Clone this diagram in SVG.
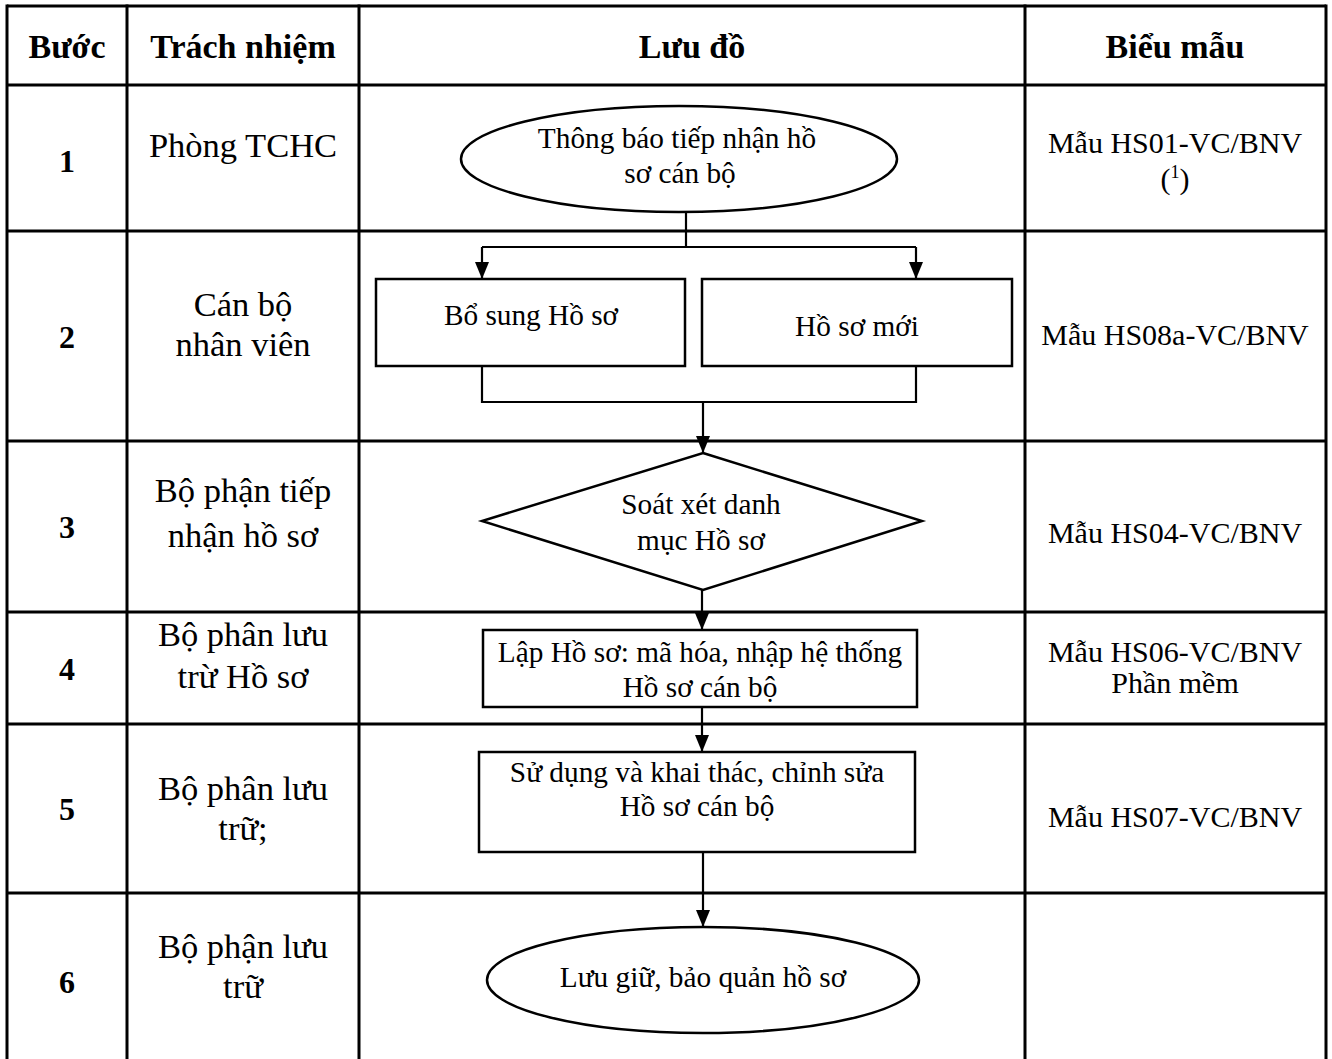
<svg xmlns="http://www.w3.org/2000/svg" width="1332" height="1059" viewBox="0 0 1332 1059">
<style>
.grid{stroke:#000;stroke-width:3;fill:none}
.shape{stroke:#000;stroke-width:2.5;fill:#fff}
.conn{stroke:#000;stroke-width:2.2;fill:none}
text{font-family:"Liberation Serif","Times New Roman",serif;fill:#000;text-anchor:middle}
.hd{font-size:34px;font-weight:bold}
.num{font-size:32px;font-weight:bold}
.resp{font-size:34.5px}
.flow{font-size:29.3px}
.form{font-size:30px}
</style>
<defs>
<marker id="arr" viewBox="0 0 17 14" refX="17" refY="7" markerWidth="17" markerHeight="14" markerUnits="userSpaceOnUse" orient="auto">
<path d="M0,0 L17,7 L0,14 Z" fill="#000"/>
</marker>
</defs>
<rect width="1332" height="1059" fill="#fff"/>
<g id="table">
<line class="grid" x1="7" y1="6" x2="1326" y2="6"/>
<line class="grid" x1="7" y1="85" x2="1326" y2="85"/>
<line class="grid" x1="7" y1="231" x2="1326" y2="231"/>
<line class="grid" x1="7" y1="441" x2="1326" y2="441"/>
<line class="grid" x1="7" y1="612" x2="1326" y2="612"/>
<line class="grid" x1="7" y1="724" x2="1326" y2="724"/>
<line class="grid" x1="7" y1="893" x2="1326" y2="893"/>
<line class="grid" x1="7" y1="4.5" x2="7" y2="1059"/>
<line class="grid" x1="127" y1="4.5" x2="127" y2="1059"/>
<line class="grid" x1="359" y1="4.5" x2="359" y2="1059"/>
<line class="grid" x1="1025" y1="4.5" x2="1025" y2="1059"/>
<line class="grid" x1="1326" y1="4.5" x2="1326" y2="1059"/>
</g>
<g id="header">
<text class="hd" x="67" y="58">Bước</text>
<text class="hd" x="243" y="58">Trách nhiệm</text>
<text class="hd" x="692" y="58">Lưu đồ</text>
<text class="hd" x="1175" y="58">Biểu mẫu</text>
</g>
<g id="steps">
<text class="num" x="67" y="172">1</text>
<text class="num" x="67" y="348">2</text>
<text class="num" x="67" y="538">3</text>
<text class="num" x="67" y="680">4</text>
<text class="num" x="67" y="820">5</text>
<text class="num" x="67" y="993">6</text>
</g>
<g id="responsibility">
<text class="resp" x="243" y="157">Phòng TCHC</text>
<text class="resp" x="243" y="316">Cán bộ</text>
<text class="resp" x="243" y="356">nhân viên</text>
<text class="resp" x="243" y="502">Bộ phận tiếp</text>
<text class="resp" x="243" y="547">nhận hồ sơ</text>
<text class="resp" x="243" y="646">Bộ phân lưu</text>
<text class="resp" x="243" y="688">trừ Hồ sơ</text>
<text class="resp" x="243" y="800">Bộ phân lưu</text>
<text class="resp" x="243" y="840">trữ;</text>
<text class="resp" x="243" y="958">Bộ phận lưu</text>
<text class="resp" x="243" y="998">trữ</text>
</g>
<g id="forms">
<text class="form" x="1175" y="153">Mẫu HS01-VC/BNV</text>
<text class="form" x="1175" y="189">(<tspan font-size="18" dy="-11">1</tspan><tspan dy="11">)</tspan></text>
<text class="form" x="1175" y="345">Mẫu HS08a-VC/BNV</text>
<text class="form" x="1175" y="543">Mẫu HS04-VC/BNV</text>
<text class="form" x="1175" y="662">Mẫu HS06-VC/BNV</text>
<text class="form" x="1175" y="693">Phần mềm</text>
<text class="form" x="1175" y="827">Mẫu HS07-VC/BNV</text>
</g>
<g id="connectors">
<polyline class="conn" points="686,212 686,247"/>
<polyline class="conn" points="482,247 916,247"/>
<line class="conn" x1="482" y1="247" x2="482" y2="279" marker-end="url(#arr)"/>
<line class="conn" x1="916" y1="247" x2="916" y2="279" marker-end="url(#arr)"/>
<polyline class="conn" points="482,366 482,402 916,402 916,366"/>
<line class="conn" x1="703" y1="402" x2="703" y2="453" marker-end="url(#arr)"/>
<line class="conn" x1="702" y1="590" x2="702" y2="630" marker-end="url(#arr)"/>
<line class="conn" x1="702" y1="707" x2="702" y2="752" marker-end="url(#arr)"/>
<line class="conn" x1="703" y1="852" x2="703" y2="927" marker-end="url(#arr)"/>
</g>
<g id="n1">
<ellipse class="shape" cx="679" cy="159" rx="218" ry="53" stroke-width="3"/>
<text class="flow" x="677" y="148">Thông báo tiếp nhận hồ</text>
<text class="flow" x="680" y="183">sơ cán bộ</text>
</g>
<g id="n2a">
<rect class="shape" x="376" y="279" width="309" height="87"/>
<text class="flow" x="531" y="325">Bổ sung Hồ sơ</text>
</g>
<g id="n2b">
<rect class="shape" x="702" y="279" width="310" height="87"/>
<text class="flow" x="857" y="336">Hồ sơ mới</text>
</g>
<g id="n3">
<polygon class="shape" points="703,453 922,521 703,590 482,521"/>
<text class="flow" x="701" y="514">Soát xét danh</text>
<text class="flow" x="701" y="550">mục Hồ sơ</text>
</g>
<g id="n4">
<rect class="shape" x="483" y="630" width="434" height="77"/>
<text class="flow" x="700" y="662">Lập Hồ sơ: mã hóa, nhập hệ thống</text>
<text class="flow" x="700" y="697">Hồ sơ cán bộ</text>
</g>
<g id="n5">
<rect class="shape" x="479" y="752" width="436" height="100"/>
<text class="flow" x="697" y="782">Sử dụng và khai thác, chỉnh sửa</text>
<text class="flow" x="697" y="816">Hồ sơ cán bộ</text>
</g>
<g id="n6">
<ellipse class="shape" cx="703" cy="980" rx="216" ry="53"/>
<text class="flow" x="703" y="987">Lưu giữ, bảo quản hồ sơ</text>
</g>
</svg>
